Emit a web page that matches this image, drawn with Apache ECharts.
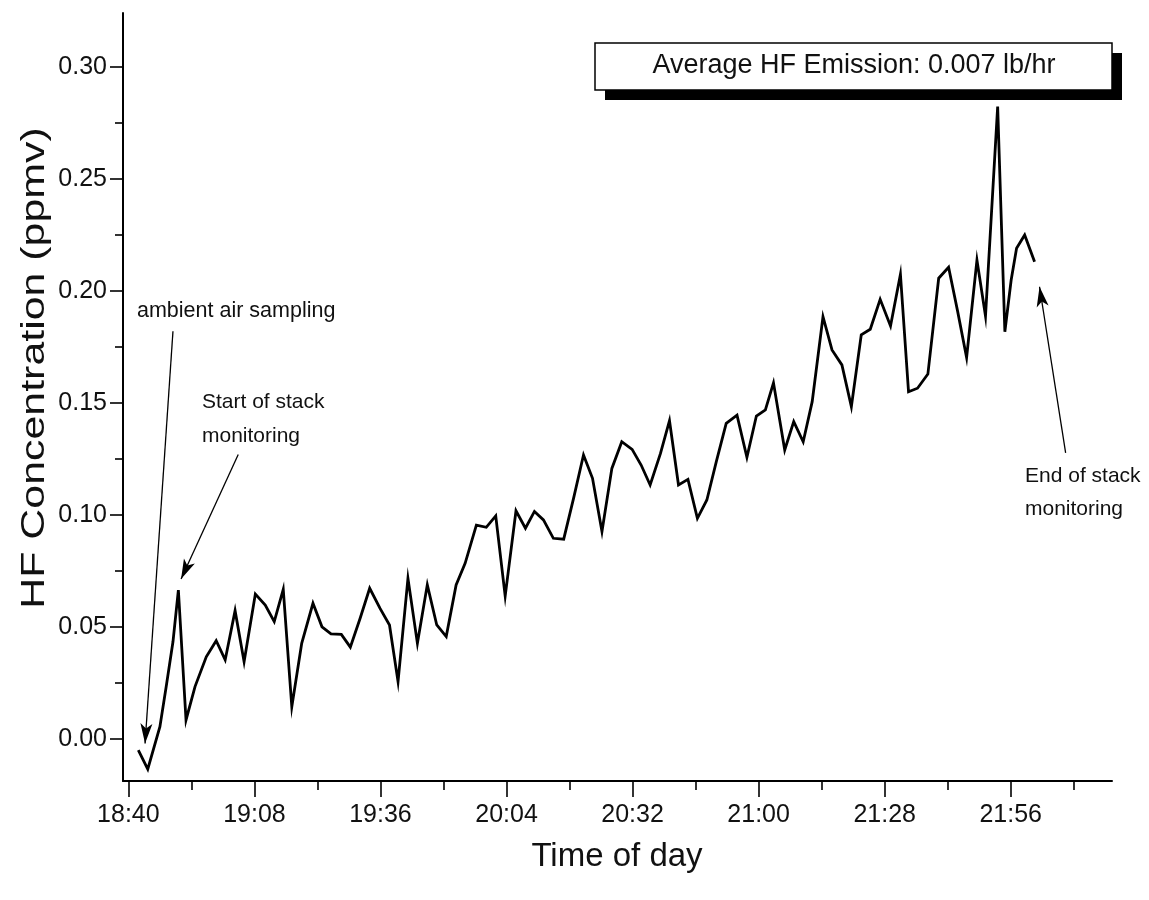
<!DOCTYPE html>
<html><head><meta charset="utf-8">
<script src="https://cdn.jsdelivr.net/npm/echarts@6/dist/echarts.min.js"></script>
<style>html,body{margin:0;padding:0;background:#fff}#c{width:1149px;height:900px}</style>
</head><body><div id="c"></div>
<script>
// minutes after 18:40
const minutesAfter1840 = [2.2,4.3,7.0,8.4,9.9,11.1,12.8,14.8,17.3,19.5,21.5,23.7,25.7,28.2,30.4,32.4,34.4,36.3,38.5,41.0,43.0,45.0,47.3,49.3,51.5,53.6,55.9,58.0,59.9,62.1,64.2,66.4,68.5,70.6,72.8,74.8,77.3,79.5,81.6,83.7,86.1,88.2,90.2,92.2,94.4,96.7,98.9,101.1,103.1,105.2,107.4,109.6,111.9,113.9,115.9,118.2,120.2,122.2,124.3,126.4,128.5,130.6,132.8,135.2,137.4,139.5,141.5,143.3,145.8,147.8,149.9,151.9,154.3,156.3,158.5,160.6,162.8,164.8,167.0,169.3,171.5,173.3,175.3,177.6,180.0,182.2,184.2,186.2,188.5,190.4,193.1,194.7,196.1,197.3,199.1,201.3];
const hfPpmv = [-0.005,-0.0135,0.0055,0.0234,0.0434,0.0665,0.0085,0.0234,0.0367,0.0439,0.0353,0.0573,0.0345,0.0647,0.0598,0.0524,0.0668,0.0144,0.0427,0.0606,0.0501,0.0469,0.0467,0.041,0.054,0.0673,0.0583,0.0509,0.0256,0.0717,0.0427,0.0688,0.0509,0.0457,0.0688,0.0784,0.0955,0.0945,0.0996,0.0638,0.1019,0.0941,0.1016,0.0978,0.0896,0.0892,0.1075,0.1268,0.1164,0.0926,0.1208,0.1327,0.1293,0.1223,0.1134,0.1275,0.1421,0.1134,0.1159,0.0985,0.1067,0.1238,0.1409,0.1446,0.1258,0.1442,0.1469,0.159,0.129,0.1417,0.1327,0.1506,0.1885,0.1737,0.167,0.1484,0.1804,0.1829,0.1963,0.1844,0.2074,0.155,0.1566,0.1629,0.2057,0.2106,0.191,0.1703,0.2138,0.1888,0.2823,0.1818,0.2049,0.2191,0.225,0.2131];

const xMajorTicks = [0,28,56,84,112,140,168,196];
const xTickLabels = ['18:40','19:08','19:36','20:04','20:32','21:00','21:28','21:56'];
const xMinorTicks = [14,42,70,98,126,154,182,210];
const yMajorTicks = [0,0.05,0.10,0.15,0.20,0.25,0.30];
const yMinorTicks = [0.025,0.075,0.125,0.175,0.225,0.275];

// annotation arrows: [fromMinute, fromValue, toMinute, toValue]
const arrowAmbient = [9.9, 0.182, 3.7, -0.002];
const arrowStart = [24.4, 0.127, 11.7, 0.0714];
const arrowEnd = [208.2, 0.1277, 202.4, 0.2019];

const FONT = "'Liberation Sans', Arial, sans-serif";
const X_MIN = -1.2, X_MAX = 218.5, Y_MIN = -0.01875, Y_MAX = 0.3241;

const chart = echarts.init(document.getElementById('c'), null, {renderer:'canvas'});

function arrowLine(a){
  return [
    {coord:[a[0],a[1]], symbol:'none'},
    {coord:[a[2],a[3]], symbol:'arrow', symbolSize:[9,20]}
  ];
}

const baseX = {
  type:'value', min:X_MIN, max:X_MAX, position:'bottom',
  splitLine:{show:false}
};
const baseY = {
  type:'value', min:Y_MIN, max:Y_MAX, position:'left',
  splitLine:{show:false}
};

chart.setOption({
  animation:false,
  backgroundColor:'#fff',
  grid:{left:123, right:37, top:13, bottom:119, containLabel:false},
  xAxis:[
    Object.assign({}, baseX, {
      axisLine:{show:true, onZero:false, lineStyle:{color:'#000', width:2}},
      axisTick:{show:true, inside:false, length:16, customValues:xMajorTicks, lineStyle:{color:'#000', width:1.6}},
      axisLabel:{show:true, customValues:xMajorTicks, margin:22, color:'#111', fontSize:25, fontFamily:FONT,
        formatter:function(v){ const i = xMajorTicks.indexOf(Math.round(v)); return i>=0 ? xTickLabels[i] : ''; }}
    }),
    Object.assign({}, baseX, {
      axisLine:{show:false, onZero:false},
      axisTick:{show:true, inside:false, length:9, customValues:xMinorTicks, lineStyle:{color:'#000', width:1.6}},
      axisLabel:{show:false}
    })
  ],
  yAxis:[
    Object.assign({}, baseY, {
      axisLine:{show:true, onZero:false, lineStyle:{color:'#000', width:2}},
      axisTick:{show:true, inside:false, length:13, customValues:yMajorTicks, lineStyle:{color:'#000', width:1.6}},
      axisLabel:{show:true, customValues:yMajorTicks, margin:16, color:'#111', fontSize:25, fontFamily:FONT,
        formatter:function(v){ return v.toFixed(2); }}
    }),
    Object.assign({}, baseY, {
      axisLine:{show:false, onZero:false},
      axisTick:{show:true, inside:false, length:8, customValues:yMinorTicks, lineStyle:{color:'#000', width:1.6}},
      axisLabel:{show:false}
    })
  ],
  series:[{
    type:'line',
    xAxisIndex:0, yAxisIndex:0,
    data: minutesAfter1840.map(function(m,i){ return [m, hfPpmv[i]]; }),
    showSymbol:false, symbol:'none',
    lineStyle:{color:'#000', width:2.8, join:'miter'},
    z:3,
    markLine:{
      silent:true, animation:false,
      label:{show:false},
      lineStyle:{color:'#000', width:1.3, type:'solid'},
      itemStyle:{color:'#000'},
      data:[arrowLine(arrowAmbient), arrowLine(arrowStart), arrowLine(arrowEnd)]
    }
  }],
  graphic:[
    {type:'text', x:35, y:368, rotation:Math.PI/2, scaleX:1.3,
      style:{text:'HF Concentration (ppmv)', fill:'#111', font:'33px '+FONT, align:'center', verticalAlign:'middle'}},
    {type:'text', x:617, y:857,
      style:{text:'Time of day', fill:'#111', font:'33px '+FONT, align:'center', verticalAlign:'middle'}},
    {type:'rect', shape:{x:605, y:53, width:517, height:47}, style:{fill:'#000'}, z:10},
    {type:'rect', shape:{x:595, y:43, width:517, height:47}, style:{fill:'#fff', stroke:'#000', lineWidth:1.5}, z:11},
    {type:'text', x:854, y:66, z:12,
      style:{text:'Average HF Emission: 0.007 lb/hr', fill:'#111', font:'27px '+FONT, align:'center', verticalAlign:'middle'}},
    {type:'text', x:137, y:311,
      style:{text:'ambient air sampling', fill:'#111', font:'21.5px '+FONT, align:'left', verticalAlign:'middle'}},
    {type:'text', x:202, y:385,
      style:{text:'Start of stack\nmonitoring', fill:'#111', font:'21px '+FONT, lineHeight:34, align:'left', verticalAlign:'top'}},
    {type:'text', x:1025, y:460,
      style:{text:'End of stack\nmonitoring', fill:'#111', font:'21px '+FONT, lineHeight:33, align:'left', verticalAlign:'top'}}
  ]
});
</script></body></html>
